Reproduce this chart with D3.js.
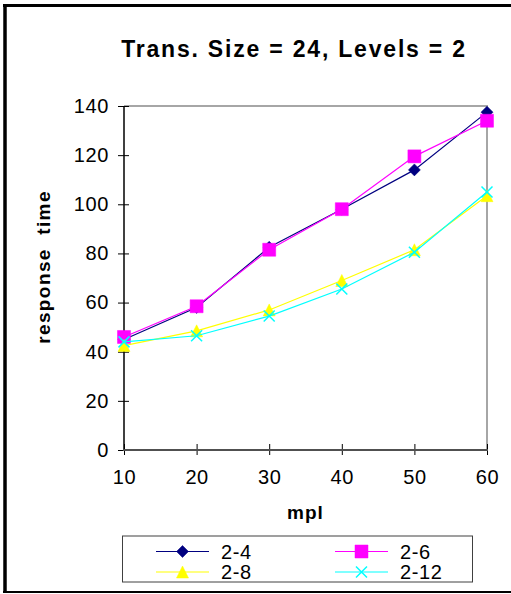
<!DOCTYPE html>
<html>
<head>
<meta charset="utf-8">
<script src="https://cdn.jsdelivr.net/npm/d3@7"></script>
<style>
  body { margin: 0; background: #fff; }
  text { font-family: "Liberation Sans", Arial, sans-serif; fill: #000; }
</style>
</head>
<body>
<script>
const mpl = [10, 20, 30, 40, 50, 60];
const series24 = [45, 58, 82.5, 98, 114, 137.5];
const series26 = [46, 58.5, 81.5, 98, 119.5, 134];
const series28 = [42.5, 48.5, 57, 69, 81.5, 103.5];
const series212 = [44, 46.5, 54.5, 65.5, 80.5, 105];
const seriesNames = ['2-4', '2-6', '2-8', '2-12'];
const yTicks = [0, 20, 40, 60, 80, 100, 120, 140];

const series = [
  { name: seriesNames[0], values: series24, color: '#000080', symbol: 'diamond' },
  { name: seriesNames[1], values: series26, color: '#ff00ff', symbol: 'square' },
  { name: seriesNames[2], values: series28, color: '#ffff00', symbol: 'triangle' },
  { name: seriesNames[3], values: series212, color: '#00ffff', symbol: 'cross' },
];

const W = 511, H = 594;
const plot = { left: 124, right: 487, top: 106, bottom: 450 };

const svg = d3.select('body')
  .append('svg')
  .attr('width', W)
  .attr('height', H);

// outer frame (left, top and bottom edges only)
svg.append('line').attr('x1', 5).attr('x2', 5).attr('y1', 4).attr('y2', 593)
  .style('stroke', '#000').style('stroke-width', 3.5);
svg.append('line').attr('x1', 3).attr('x2', W).attr('y1', 5.5).attr('y2', 5.5)
  .style('stroke', '#000').style('stroke-width', 3);
svg.append('line').attr('x1', 3).attr('x2', W).attr('y1', 592).attr('y2', 592)
  .style('stroke', '#000').style('stroke-width', 2);

const x = d3.scaleLinear().domain([10, 60]).range([plot.left, plot.right]);
const y = d3.scaleLinear().domain([0, 140]).range([plot.bottom, plot.top]);

// title
svg.append('text')
  .attr('x', 294)
  .attr('y', 57)
  .attr('text-anchor', 'middle')
  .style('font-size', '23px')
  .style('font-weight', 'bold')
  .style('letter-spacing', '1.8px')
  .text('Trans. Size = 24, Levels = 2');

// top / right plot border
svg.append('path')
  .attr('d', `M${plot.left},${plot.top}H${plot.right}V${plot.bottom}`)
  .style('fill', 'none')
  .style('stroke', '#a6a6a6')
  .style('stroke-width', 2);

const tickFont = sel => sel
  .style('font-size', '20px')
  .style('letter-spacing', '0.6px')
  .style('font-family', '"Liberation Sans", Arial, sans-serif');

const yAxis = d3.axisLeft(y).tickValues(yTicks).tickSize(6).tickPadding(9);
const gy = svg.append('g')
  .attr('transform', `translate(${plot.left},0)`)
  .call(yAxis);
gy.select('.domain').remove();
gy.selectAll('.tick line').attr('x1', 5).style('stroke', '#000');
gy.append('line').attr('y1', plot.top).attr('y2', plot.bottom + 1)
  .style('stroke', '#000').style('stroke-width', 1.5);
gy.selectAll('.tick text').call(tickFont);

const xAxis = d3.axisBottom(x).tickValues(mpl).tickSize(5).tickPadding(15);
const gx = svg.append('g')
  .attr('transform', `translate(0,${plot.bottom})`)
  .call(xAxis);
gx.select('.domain').remove();
gx.selectAll('.tick line').attr('y1', -6).style('stroke', '#000');
gx.append('line').attr('x1', plot.left - 1).attr('x2', plot.right + 1)
  .style('stroke', '#505050').style('stroke-width', 2);
gx.selectAll('.tick text').call(tickFont);

// axis titles
svg.append('text')
  .attr('x', (plot.left + plot.right) / 2)
  .attr('y', 519)
  .attr('text-anchor', 'middle')
  .style('font-size', '19px')
  .style('font-weight', 'bold')
  .style('letter-spacing', '1px')
  .text('mpl');

svg.append('text')
  .attr('transform', `translate(50,${(plot.top + plot.bottom) / 2 - 11}) rotate(-90)`)
  .attr('text-anchor', 'middle')
  .style('font-size', '19px')
  .style('font-weight', 'bold')
  .style('letter-spacing', '1.4px')
  .style('white-space', 'pre')
  .attr('xml:space', 'preserve')
  .text('response  time');

const markerPath = (symbol, size) => {
  const s = size / 2;
  if (symbol === 'diamond') return `M0,${-s}L${s},0L0,${s}L${-s},0Z`;
  if (symbol === 'square') return `M${-s},${-s}H${s}V${s}H${-s}Z`;
  if (symbol === 'triangle') return `M0,${-s}L${s},${s}H${-s}Z`;
  return `M${-s},${-s}L${s},${s}M${s},${-s}L${-s},${s}`;
};

const markerSize = { diamond: 12, square: 13, triangle: 12, cross: 11 };

const drawMarker = (g, d, cx, cy) => {
  g.append('path')
    .attr('transform', `translate(${cx},${cy})`)
    .attr('d', markerPath(d.symbol, markerSize[d.symbol]))
    .style('fill', d.symbol === 'cross' ? 'none' : d.color)
    .style('stroke', d.color)
    .style('stroke-width', d.symbol === 'cross' ? 1.5 : 0.5);
};

const line = d3.line()
  .x((v, i) => x(mpl[i]))
  .y(v => y(v));

series.forEach(d => {
  const g = svg.append('g').attr('class', 'series');
  g.append('path')
    .attr('d', line(d.values))
    .style('fill', 'none')
    .style('stroke', d.color)
    .style('stroke-width', 1.2);
  d.values.forEach((v, i) => drawMarker(g, d, x(mpl[i]), y(v)));
});

// legend
const legend = svg.append('g').attr('class', 'legend');
legend.append('rect')
  .attr('x', 122.5)
  .attr('y', 536)
  .attr('width', 350)
  .attr('height', 46)
  .style('fill', '#fff')
  .style('stroke', '#404040')
  .style('stroke-width', 1);

const legendPos = [
  { x: 156, y: 551.5 },
  { x: 335, y: 551.5 },
  { x: 156, y: 572 },
  { x: 335, y: 572 },
];

series.forEach((d, i) => {
  const p = legendPos[i];
  const g = legend.append('g');
  g.append('line')
    .attr('x1', p.x).attr('x2', p.x + 53)
    .attr('y1', p.y).attr('y2', p.y)
    .style('stroke', d.color)
    .style('stroke-width', 1.2);
  drawMarker(g, d, p.x + 26.5, p.y);
  g.append('text')
    .attr('x', p.x + 65)
    .attr('y', p.y + 7)
    .style('font-size', '20px')
    .style('letter-spacing', '0.6px')
    .text(d.name);
});
</script>
</body>
</html>
